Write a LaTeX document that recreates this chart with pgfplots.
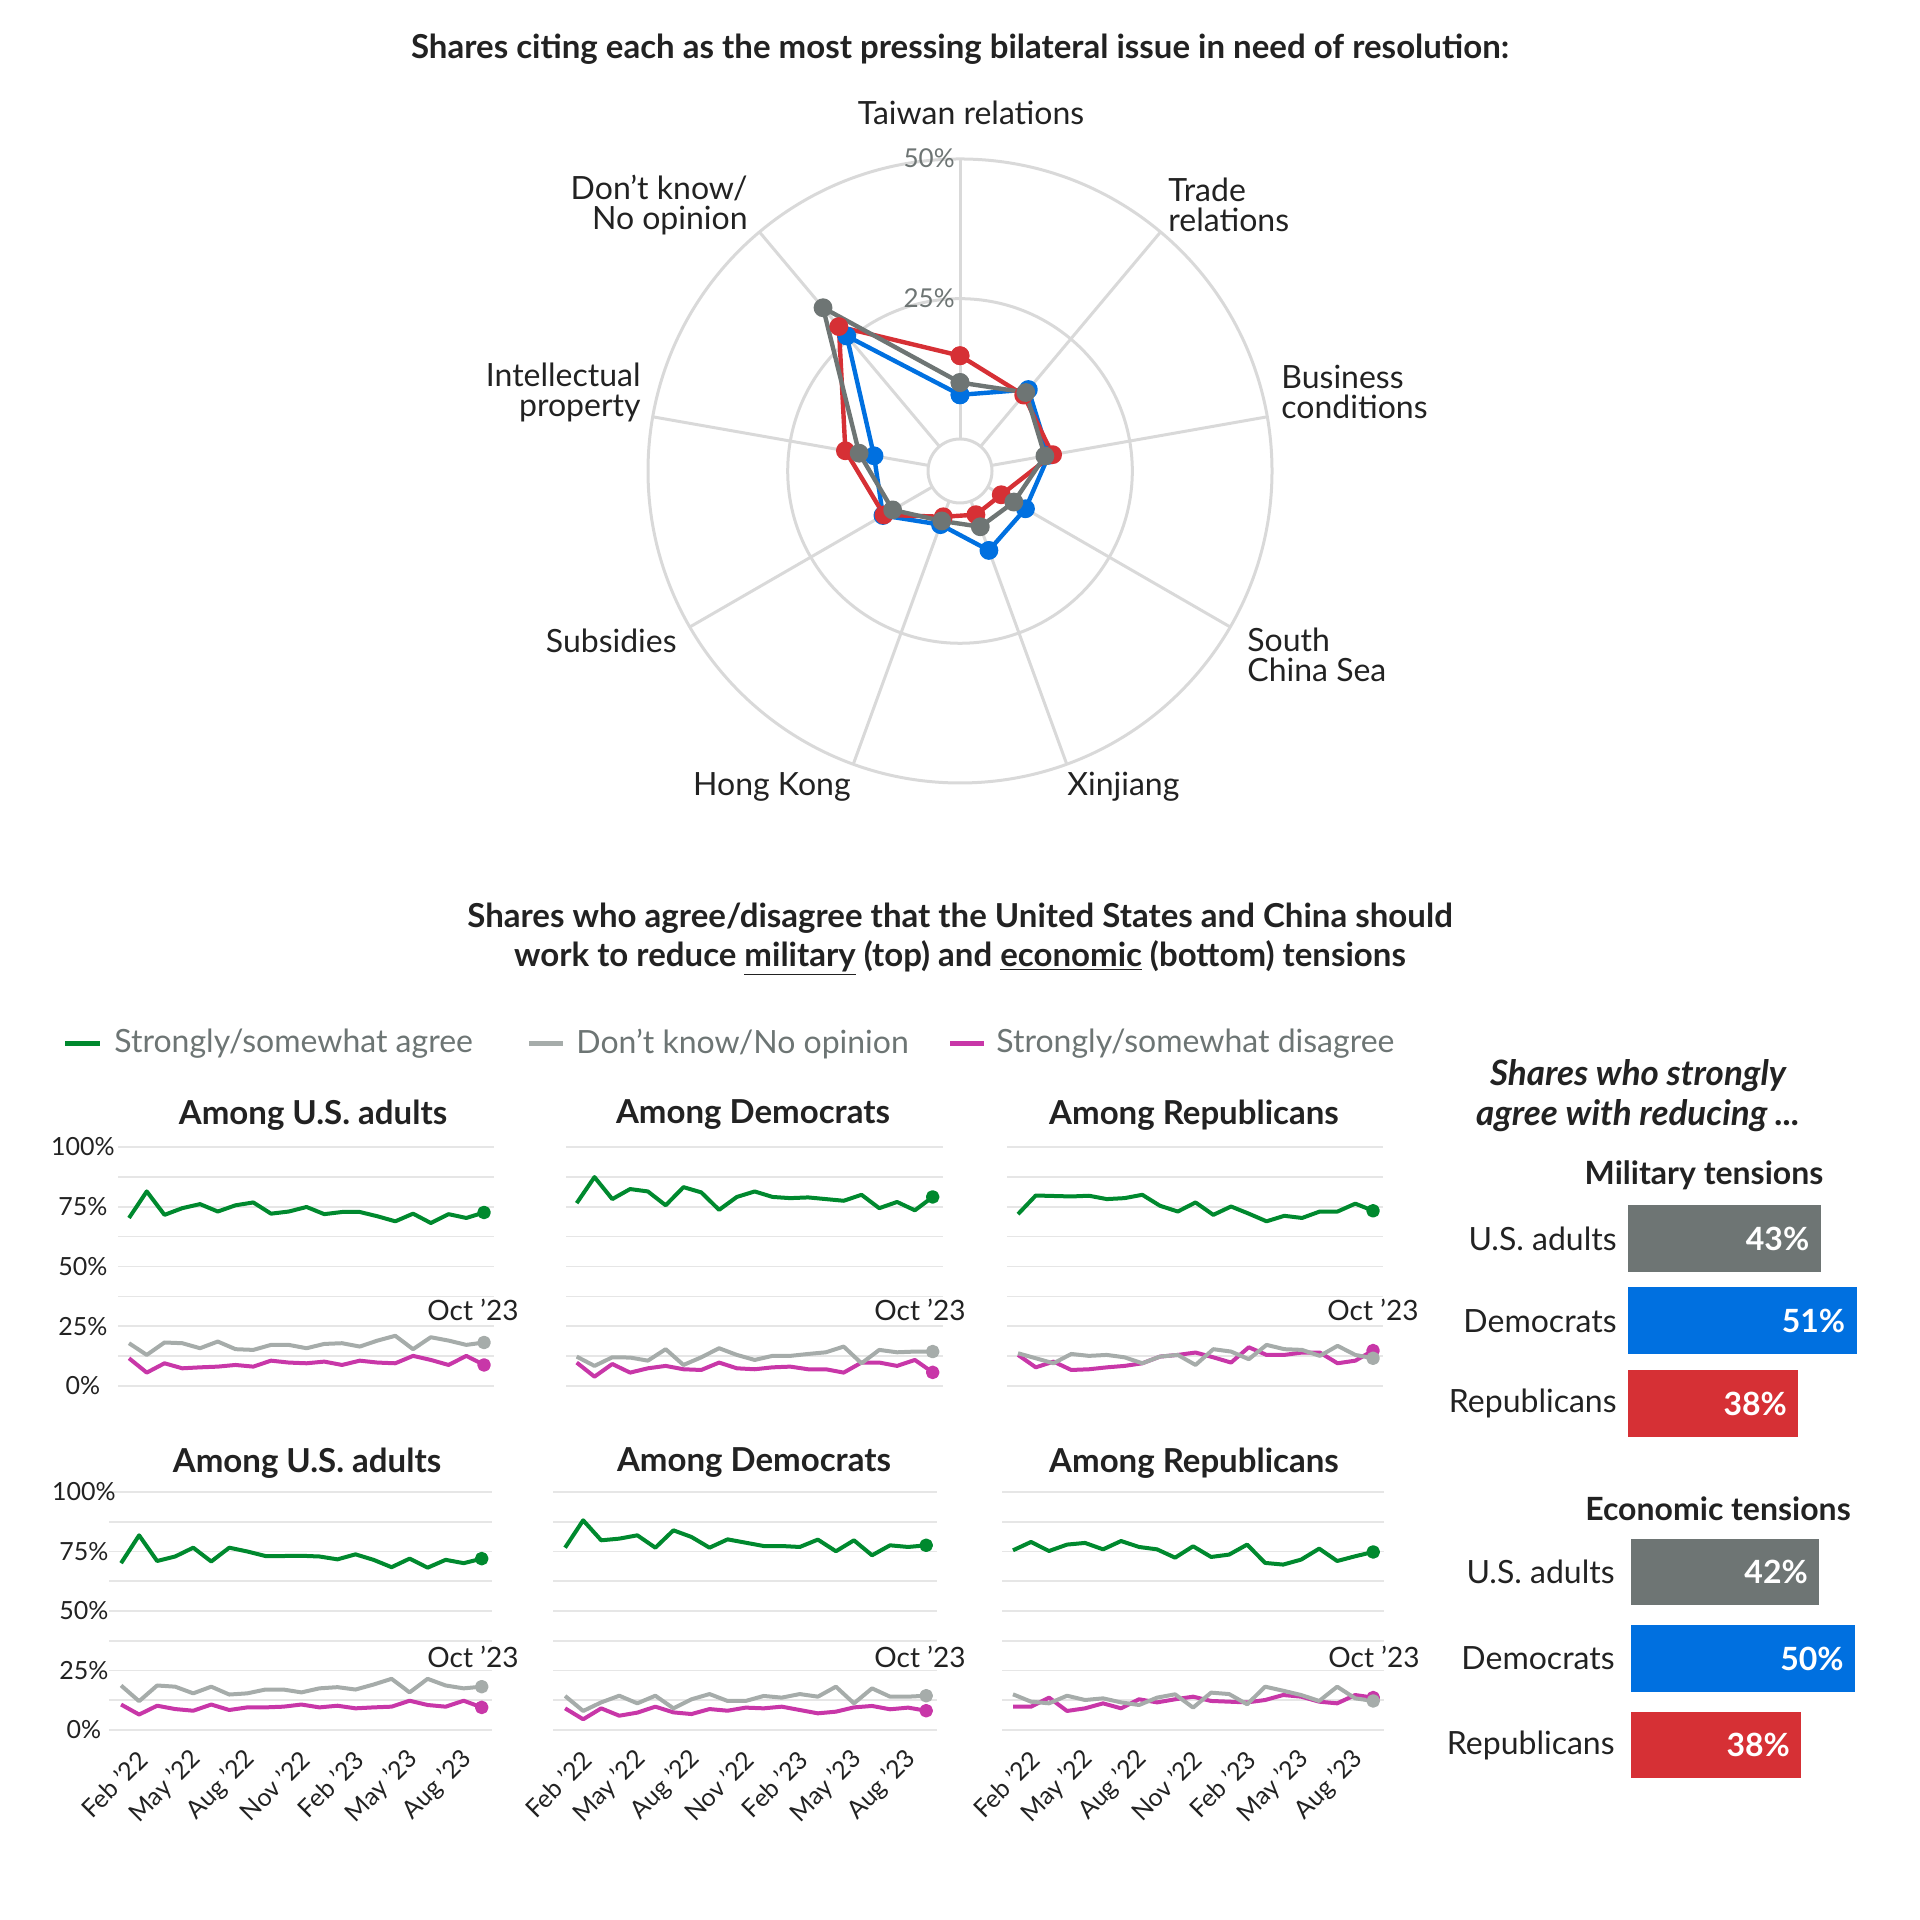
\documentclass[border=0pt]{standalone}
\usepackage{fontspec}
\setmainfont{Lato}
\usepackage{pgfplots}
\pgfplotsset{compat=1.18}
\usepackage{pgfplotstable}
\definecolor{cGreen}{HTML}{00892E}
\definecolor{cLGray}{HTML}{A6ACAA}
\definecolor{cMag}{HTML}{C837A8}
\definecolor{cRed}{HTML}{D63035}
\definecolor{cBlue}{HTML}{0070E0}
\definecolor{cDGray}{HTML}{6E7574}
\definecolor{cGrid}{HTML}{E6E6E6}
\definecolor{cRing}{HTML}{D9D9D9}
\definecolor{cText}{HTML}{222222}
\definecolor{cLeg}{HTML}{6D7574}
\newcommand{\fs}[2]{\fontsize{#1}{#2}\selectfont}

\pgfplotstableread{
a blue red gray
90 7.9 14.9 10.1
50 13.3 12.0 12.6
10 10.4 11.1 9.7
-30 7.8 2.8 5.4
-70 9.4 2.6 4.9
-110 4.5 3.0 3.8
-150 10.2 10.0 8.2
170 9.9 15.1 12.6
130 25.8 28.0 32.4
90 7.9 14.9 10.1
}\radar

\pgfplotstableread{
i ag dk dis
0 70.3 17.9 11.6
1 81.4 13.0 5.6
2 71.6 18.2 9.5
3 74.4 17.9 7.4
4 76.1 15.8 7.8
5 73.0 18.6 8.1
6 75.6 15.4 8.8
7 76.8 15.1 8.1
8 72.1 17.2 10.6
9 73.0 17.2 9.8
10 74.9 15.8 9.5
11 71.9 17.6 10.2
12 72.8 17.9 8.8
13 72.8 16.5 10.6
14 71.0 19.0 9.8
15 68.9 21.0 9.5
16 72.1 15.4 12.6
17 68.2 20.4 10.9
18 71.9 19.0 8.8
19 70.3 17.2 12.6
20 72.6 18.2 8.8
}\pA

\pgfplotstableread{
i ag dk dis
0 76.5 12.3 9.8
1 87.4 8.4 3.9
2 78.2 12.0 9.2
3 82.4 11.9 5.6
4 81.4 10.6 7.4
5 75.6 15.4 8.4
6 83.2 8.8 7.0
7 81.0 12.0 6.7
8 73.7 15.8 9.8
9 79.1 13.0 7.4
10 81.4 10.9 7.0
11 79.1 12.6 7.8
12 78.6 12.6 8.1
13 78.9 13.4 7.0
14 78.2 14.1 7.0
15 77.5 16.5 5.6
16 80.0 9.5 9.8
17 74.4 15.1 9.8
18 77.0 14.1 8.4
19 73.5 14.4 10.9
20 79.1 14.4 5.7
}\pB

\pgfplotstableread{
i ag dk dis
0 71.9 13.7 13.0
1 79.7 11.6 7.8
2 79.5 9.5 10.2
3 79.3 13.4 6.7
4 79.6 12.6 7.0
5 78.2 13.0 7.8
6 78.6 12.0 8.4
7 80.0 9.5 9.5
8 75.4 12.3 12.3
9 73.0 13.0 13.0
10 76.8 8.8 14.0
11 71.6 15.4 12.0
12 75.1 14.4 9.8
13 72.1 11.2 16.2
14 68.9 17.2 13.0
15 71.2 15.4 13.0
16 70.3 15.1 14.0
17 73.0 12.6 14.0
18 73.0 16.8 9.5
19 76.3 13.0 10.6
20 73.3 11.6 14.8
}\pC

\pgfplotstableread{
i ag dk dis
0 70.1 18.7 10.7
1 81.8 12.1 6.5
2 71.0 18.7 10.2
3 72.9 18.2 8.8
4 76.6 15.4 8.1
5 70.8 18.2 10.7
6 76.6 14.9 8.4
7 75.0 15.4 9.5
8 73.1 17.0 9.5
9 73.1 17.0 9.8
10 73.2 15.8 10.7
11 72.9 17.5 9.5
12 71.7 18.0 10.2
13 73.8 17.0 9.1
14 71.5 19.1 9.5
15 68.4 21.5 9.8
16 72.0 15.8 12.3
17 68.2 21.5 10.5
18 71.5 18.7 9.8
19 70.1 17.5 12.3
20 72.0 18.2 9.5
}\pD

\pgfplotstableread{
i ag dk dis
0 76.6 14.3 9.1
1 88.1 8.0 4.5
2 79.7 11.6 9.1
3 80.4 14.4 6.0
4 81.8 11.2 7.3
5 76.6 14.4 9.8
6 83.9 9.1 7.4
7 81.1 12.9 6.7
8 76.6 15.1 8.8
9 80.1 12.2 8.1
10 78.7 12.2 9.4
11 77.3 14.3 9.1
12 77.3 13.6 9.8
13 76.9 15.1 8.4
14 80.0 14.0 7.0
15 75.1 18.2 7.7
16 79.7 11.2 9.5
17 73.4 17.5 10.1
18 77.6 14.0 8.7
19 76.9 14.0 9.4
20 77.6 14.4 8.1
}\pE

\pgfplotstableread{
i ag dk dis
0 75.5 15.0 9.8
1 79.0 11.9 9.8
2 75.2 11.2 13.6
3 77.9 14.4 8.0
4 78.6 12.6 9.1
5 75.9 13.3 11.2
6 79.4 11.6 9.1
7 76.9 10.5 12.9
8 75.9 13.6 11.6
9 72.4 15.0 12.9
10 77.2 9.4 14.0
11 72.7 15.7 12.2
12 73.7 15.1 11.9
13 77.9 10.8 11.6
14 70.2 18.2 12.6
15 69.5 16.5 14.7
16 71.6 14.7 14.0
17 76.2 12.2 11.9
18 71.0 18.2 11.2
19 73.0 13.3 14.7
20 74.8 12.2 13.6
}\pF

\pgfplotsset{
 panel/.style={
  scale only axis, clip=false,
  ymin=0, ymax=100,
  axis line style={draw=none},
  major tick length=0pt, minor tick length=0pt,
  ytick={0,25,50,75,100}, minor ytick={12.5,37.5,62.5,87.5},
  ymajorgrids, yminorgrids,
  major grid style={draw=cGrid, line width=0.8pt},
  minor grid style={draw=cGrid, line width=0.8pt},
  yticklabels={},
  xtick=\empty,
 },
 ylab/.style={yticklabels={0\%,25\%,50\%,75\%,100\%},
   yticklabel style={anchor=center, font=\fs{12.5pt}{14pt}, text=cText},
   yticklabel shift=#1},
 xlab/.style={xtick={1.22,4.22,7.22,10.22,13.22,16.22,19.22},
   xticklabels={Feb ’22,May ’22,Aug ’22,Nov ’22,Feb ’23,May ’23,Aug ’23},
   xticklabel style={rotate=45, anchor=east, inner sep=0pt, font=\fs{12.5pt}{14pt}, text=cText},
   xticklabel shift=12.5pt},
 ser/.style={line width=2pt, line join=round, mark=*, mark indices={21}, mark size=2.4pt, mark options={solid}},
}
\newcommand{\panellines}[1]{%
 \addplot[cGreen, ser] table[x=i,y=ag]{#1};
 \addplot[cMag, ser] table[x=i,y=dis]{#1};
 \addplot[cLGray, ser] table[x=i,y=dk]{#1};
}

\begin{document}
\begin{tikzpicture}[x=0.5pt,y=0.5pt]
\path[use as bounding box] (0,0) rectangle (1920,1920);

% ---------- Radar ----------
\node[font=\bfseries\fs{16.5pt}{18pt}, text=cText] at (960,1871) {Shares citing each as the most pressing bilateral issue in need of resolution:};
\begin{scope}[shift={(960,1449)}]
 \draw[cRing, line width=1.5pt] (0,0) circle[radius=156pt];
 \draw[cRing, line width=1.5pt] (0,0) circle[radius=86.15pt];
 \draw[cRing, line width=1.5pt] (0,0) circle[radius=16pt];
 \foreach \a in {90,50,10,-30,-70,-110,-150,170,130}
  \draw[cRing, line width=1.5pt] (\a:16pt) -- (\a:156pt);
\end{scope}
\node[anchor=east, inner sep=0pt, text=cDGray, font=\fs{13pt}{15pt}] at (955,1762) {50\%};
\node[anchor=east, inner sep=0pt, text=cDGray, font=\fs{13pt}{15pt}] at (955,1622) {25\%};

\begin{axis}[scale only axis, hide axis, clip=false,
  width=335.4pt, height=335.4pt, xmin=-60, xmax=60, ymin=-60, ymax=60,
  at={(480pt,724.5pt)}, anchor=center]
 \addplot[cBlue, line width=2.2pt, line join=round, mark=*, mark size=3.6pt]
   table[x expr={(\thisrow{blue}+5.72)*cos(\thisrow{a})}, y expr={(\thisrow{blue}+5.72)*sin(\thisrow{a})}]{\radar};
 \addplot[cRed, line width=2.2pt, line join=round, mark=*, mark size=3.6pt]
   table[x expr={(\thisrow{red}+5.72)*cos(\thisrow{a})}, y expr={(\thisrow{red}+5.72)*sin(\thisrow{a})}]{\radar};
 \addplot[cDGray, line width=2.2pt, line join=round, mark=*, mark size=3.6pt]
   table[x expr={(\thisrow{gray}+5.72)*cos(\thisrow{a})}, y expr={(\thisrow{gray}+5.72)*sin(\thisrow{a})}]{\radar};
\end{axis}

\begin{scope}[every node/.style={font=\fs{16pt}{15pt}, text=cText, inner sep=0pt}]
 \node at (971,1807) {Taiwan relations};
 \node[anchor=west, align=left] at (1168,1715) {Trade\\relations};
 \node[anchor=west, align=left] at (1281,1528) {Business\\conditions};
 \node[anchor=west, align=left] at (1247,1265) {South\\China Sea};
 \node[anchor=west] at (1067,1133) {Xinjiang};
 \node[anchor=east] at (851,1133) {Hong Kong};
 \node[anchor=east] at (677,1279) {Subsidies};
 \node[anchor=east, align=right] at (641,1528) {Intellectual\\property};
 \node[anchor=east, align=right] at (748,1715) {Don't know/\\No opinion};
\end{scope}

% ---------- Line panels ----------
\node[font=\bfseries\fs{16.5pt}{19.5pt}, align=center, text=cText] at (960,980.5)
 {Shares who agree/disagree that the United States and China should\\work to reduce \underline{military} (top) and \underline{economic} (bottom) tensions};

\draw[cGreen, line width=2.5pt] (65,876) -- (100,876);
\node[anchor=west, inner sep=0pt, text=cLeg, font=\fs{16pt}{18pt}] at (114,876) {Strongly/somewhat agree};
\draw[cLGray, line width=2.5pt] (529,876) -- (563,876);
\node[anchor=west, inner sep=0pt, text=cLeg, font=\fs{16pt}{18pt}] at (576,876) {Don't know/No opinion};
\draw[cMag, line width=2.5pt] (950,876) -- (984,876);
\node[anchor=west, inner sep=0pt, text=cLeg, font=\fs{16pt}{18pt}] at (996,876) {Strongly/somewhat disagree};

\begin{scope}[every node/.style={font=\bfseries\fs{16.5pt}{18pt}, text=cText}]
 \node at (313,805) {Among U.S. adults};
 \node at (753,805) {Among Democrats};
 \node at (1194,805) {Among Republicans};
 \node at (307,457) {Among U.S. adults};
 \node at (754,457) {Among Democrats};
 \node at (1194,457) {Among Republicans};
\end{scope}

\begin{axis}[panel, ylab=17.5pt, at={(59pt,267pt)}, anchor=south west, width=188pt, height=119.5pt, xmin=-0.62, xmax=20.56]
\panellines{\pA}
\end{axis}
\begin{axis}[panel, at={(283pt,267pt)}, anchor=south west, width=188.5pt, height=119.5pt, xmin=-0.6, xmax=20.58]
\panellines{\pB}
\end{axis}
\begin{axis}[panel, at={(503.5pt,267pt)}, anchor=south west, width=188pt, height=119.5pt, xmin=-0.62, xmax=20.56]
\panellines{\pC}
\end{axis}
\begin{axis}[panel, ylab=12.5pt, xlab, at={(54.5pt,95pt)}, anchor=south west, width=191.5pt, height=119pt, xmin=-0.67, xmax=20.57]
\panellines{\pD}
\end{axis}
\begin{axis}[panel, xlab, at={(276.5pt,95pt)}, anchor=south west, width=192pt, height=119pt, xmin=-0.67, xmax=20.6]
\panellines{\pE}
\end{axis}
\begin{axis}[panel, xlab, at={(501pt,95pt)}, anchor=south west, width=191pt, height=119pt, xmin=-0.61, xmax=20.6]
\panellines{\pF}
\end{axis}

\begin{scope}[every node/.style={fill=white, inner sep=1pt, font=\fs{14pt}{16pt}, text=cText}]
 \node at (473,610) {Oct ’23};
 \node at (920,610) {Oct ’23};
 \node at (1373,610) {Oct ’23};
 \node at (473,263) {Oct ’23};
 \node at (920,263) {Oct ’23};
 \node at (1374,263) {Oct ’23};
\end{scope}

% ---------- Bars ----------
\node[font=\bfseries\itshape\fs{17.5pt}{20pt}, align=center, text=cText] at (1638,824) {Shares who strongly\\agree with reducing ...};
\node[font=\bfseries\fs{16pt}{18pt}, text=cText] at (1704,745) {Military tensions};
\node[font=\bfseries\fs{16pt}{18pt}, text=cText] at (1718,411) {Economic tensions};

\begin{axis}[scale only axis, clip=false, at={(814pt,361.375pt)}, anchor=north west,
  width=134.4pt, height=123.75pt, xmin=0, xmax=60, ymin=-0.5, ymax=2.5, y dir=reverse,
  xbar, bar width=33.5pt, bar shift=0pt, axis line style={draw=none}, major tick length=0pt,
  xtick=\empty, ytick={0,1,2}, yticklabels={U.S. adults,Democrats,Republicans},
  yticklabel style={anchor=east, inner sep=0pt, font=\fs{16pt}{18pt}, text=cText}, yticklabel shift=5.5pt]
 \addplot[fill=cDGray, draw=none] coordinates {(43,0)};
 \addplot[fill=cBlue, draw=none] coordinates {(51,1)};
 \addplot[fill=cRed, draw=none] coordinates {(38,2)};
 \node[anchor=east, inner sep=0pt, xshift=-5.5pt, text=white, font=\bfseries\fs{16pt}{18pt}] at (axis cs:43,0) {43\%};
 \node[anchor=east, inner sep=0pt, xshift=-5.5pt, text=white, font=\bfseries\fs{16pt}{18pt}] at (axis cs:51,1) {51\%};
 \node[anchor=east, inner sep=0pt, xshift=-5.5pt, text=white, font=\bfseries\fs{16pt}{18pt}] at (axis cs:38,2) {38\%};
\end{axis}

\begin{axis}[scale only axis, clip=false, at={(815.5pt,195.625pt)}, anchor=north west,
  width=134.4pt, height=129.75pt, xmin=0, xmax=60, ymin=-0.5, ymax=2.5, y dir=reverse,
  xbar, bar width=33pt, bar shift=0pt, axis line style={draw=none}, major tick length=0pt,
  xtick=\empty, ytick={0,1,2}, yticklabels={U.S. adults,Democrats,Republicans},
  yticklabel style={anchor=east, inner sep=0pt, font=\fs{16pt}{18pt}, text=cText}, yticklabel shift=8pt]
 \addplot[fill=cDGray, draw=none] coordinates {(42,0)};
 \addplot[fill=cBlue, draw=none] coordinates {(50,1)};
 \addplot[fill=cRed, draw=none] coordinates {(38,2)};
 \node[anchor=east, inner sep=0pt, xshift=-5.5pt, text=white, font=\bfseries\fs{16pt}{18pt}] at (axis cs:42,0) {42\%};
 \node[anchor=east, inner sep=0pt, xshift=-5.5pt, text=white, font=\bfseries\fs{16pt}{18pt}] at (axis cs:50,1) {50\%};
 \node[anchor=east, inner sep=0pt, xshift=-5.5pt, text=white, font=\bfseries\fs{16pt}{18pt}] at (axis cs:38,2) {38\%};
\end{axis}
\end{tikzpicture}
\end{document}
